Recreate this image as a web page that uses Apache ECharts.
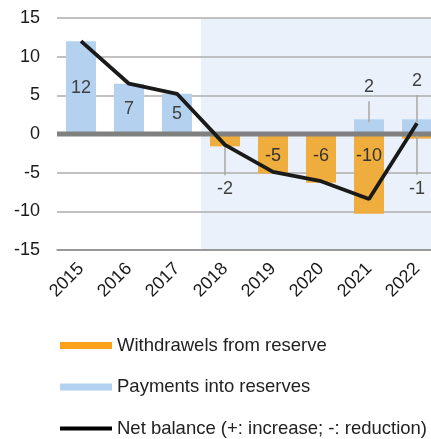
<!DOCTYPE html>
<html><head><meta charset="utf-8">
<script src="https://cdn.jsdelivr.net/npm/echarts@6/dist/echarts.min.js"></script>
<style>html,body{margin:0;padding:0;background:#fff}#c{width:431px;height:439px}</style>
</head><body><div id="c"></div>
<script>
const categories = ['2015','2016','2017','2018','2019','2020','2021','2022'];
const payments = [12.0, 6.5, 5.2, null, null, null, 1.9, 1.9];
const withdrawals = [null, null, null, -1.6, -5.1, -6.3, -10.3, -0.6];
const netBalance = [12.0, 6.5, 5.2, -1.4, -4.9, -6.1, -8.4, 1.4];
const yTicks = [-15, -10, -5, 0, 5, 10, 15];
const shadedFrom = '2018';

const FONT = '"Liberation Sans", Arial, sans-serif';
const BAR_BLUE = '#B4D2EF', BAR_ORANGE = '#EEAD3C';
const callouts = [
  {src: payments, cat: '2021', off: -32},
  {src: payments, cat: '2022', off: -38},
  {src: withdrawals, cat: '2018', off: 43},
  {src: withdrawals, cat: '2022', off: 50}
];
const outsideSet = new Set(callouts.map(c => (c.src === payments ? 'p' : 'w') + c.cat));
const calloutData = callouts.map(c => {
  const i = categories.indexOf(c.cat);
  return [i, c.src[i], c.off];
});
const shadeStart = categories.indexOf(shadedFrom);
const shadeData = categories.map((c, i) => [i]).filter(d => d[0] >= shadeStart);

const chart = echarts.init(document.getElementById('c'), null, {renderer: 'canvas'});
chart.setOption({
  animation: false,
  textStyle: {fontFamily: FONT},
  grid: {left: 57, width: 384, top: 18, height: 232, containLabel: false, outerBoundsMode: 'none'},
  legend: {
    orient: 'vertical', left: 55, top: 331, height: 110, itemWidth: 52, itemHeight: 7, itemGap: 22.5,
    textStyle: {fontSize: 18.5, color: '#222', fontFamily: FONT},
    selectedMode: false,
    data: [
      {name: 'Withdrawels from reserve', icon: 'rect', itemStyle: {color: '#FBA21A'}},
      {name: 'Payments into reserves', icon: 'rect', itemStyle: {color: BAR_BLUE}},
      {name: 'Net balance (+: increase; -: reduction)', icon: 'path://M0,0H52V4H0Z', itemStyle: {color: '#000'}}
    ]
  },
  xAxis: {
    type: 'category', data: categories,
    axisLine: {onZero: false, lineStyle: {color: '#8C8C8C', width: 1.5}},
    axisTick: {show: false},
    axisLabel: {rotate: 45, fontSize: 18, color: '#1a1a1a', margin: 16, interval: 0, fontFamily: FONT}
  },
  yAxis: {
    type: 'value', min: yTicks[0], max: yTicks[yTicks.length - 1], interval: 5,
    axisLine: {show: false}, axisTick: {show: false},
    axisLabel: {fontSize: 18, color: '#1a1a1a', margin: 17, fontFamily: FONT},
    splitLine: {lineStyle: {color: '#ADADAD', width: 1.5}}
  },
  series: [
    {
      type: 'custom', name: 'shade', z: -1, silent: true,
      data: shadeData,
      renderItem: (params, api) => {
        const i = api.value(0);
        const bw = api.size([1, 0])[0];
        const top = api.coord([i, yTicks[yTicks.length - 1]]);
        const bot = api.coord([i, yTicks[0]]);
        const x0 = Math.floor(top[0] - bw / 2), x1 = Math.ceil(top[0] + bw / 2);
        return {type: 'rect', shape: {x: x0, y: top[1], width: x1 - x0, height: bot[1] - top[1]},
          style: {fill: '#EAF1FA'}};
      }
    },
    {
      type: 'bar', name: 'Payments into reserves', stack: 'r', barWidth: 30, z: 2,
      itemStyle: {color: BAR_BLUE},
      data: payments,
      label: {show: true, position: 'inside', fontSize: 18, color: '#404040', fontFamily: FONT,
        formatter: p => outsideSet.has('p' + p.name) || p.value == null ? '' : String(Math.round(p.value))}
    },
    {
      type: 'bar', name: 'Withdrawels from reserve', stack: 'r', barWidth: 30, z: 2,
      itemStyle: {color: BAR_ORANGE},
      data: withdrawals,
      label: {show: true, position: 'insideTop', distance: 13, fontSize: 18, color: '#333', fontFamily: FONT,
        formatter: p => outsideSet.has('w' + p.name) || p.value == null ? '' : String(Math.round(p.value))}
    },
    {
      type: 'custom', name: 'zero', z: 3, silent: true,
      data: [[0]],
      renderItem: (params, api) => {
        const cs = params.coordSys;
        const y = api.coord([0, 0])[1];
        return {type: 'line', shape: {x1: cs.x, y1: y, x2: cs.x + cs.width, y2: y},
          style: {stroke: '#808080', lineWidth: 5}};
      }
    },
    {
      type: 'custom', name: 'callouts', z: 3, silent: true,
      data: calloutData,
      renderItem: (params, api) => {
        const i = api.value(0), v = api.value(1), off = api.value(2);
        const p = api.coord([i, v]);
        const ty = p[1] + off;
        const dir = off < 0 ? -1 : 1;
        return {type: 'group', children: [
          {type: 'line', shape: {x1: p[0], y1: p[1] - dir * 3, x2: p[0], y2: ty - dir * 14},
            style: {stroke: '#A6A6A6', lineWidth: 1.5}},
          {type: 'text', x: p[0], y: ty, style: {text: String(Math.round(v)), textAlign: 'center',
            textVerticalAlign: 'middle', fill: '#404040', font: '18px ' + FONT}}
        ]};
      }
    },
    {
      type: 'line', name: 'Net balance (+: increase; -: reduction)', z: 4,
      data: netBalance, symbol: 'none',
      lineStyle: {color: '#1a1a1a', width: 3.8},
      itemStyle: {color: '#000'}
    }
  ]
});
</script></body></html>
